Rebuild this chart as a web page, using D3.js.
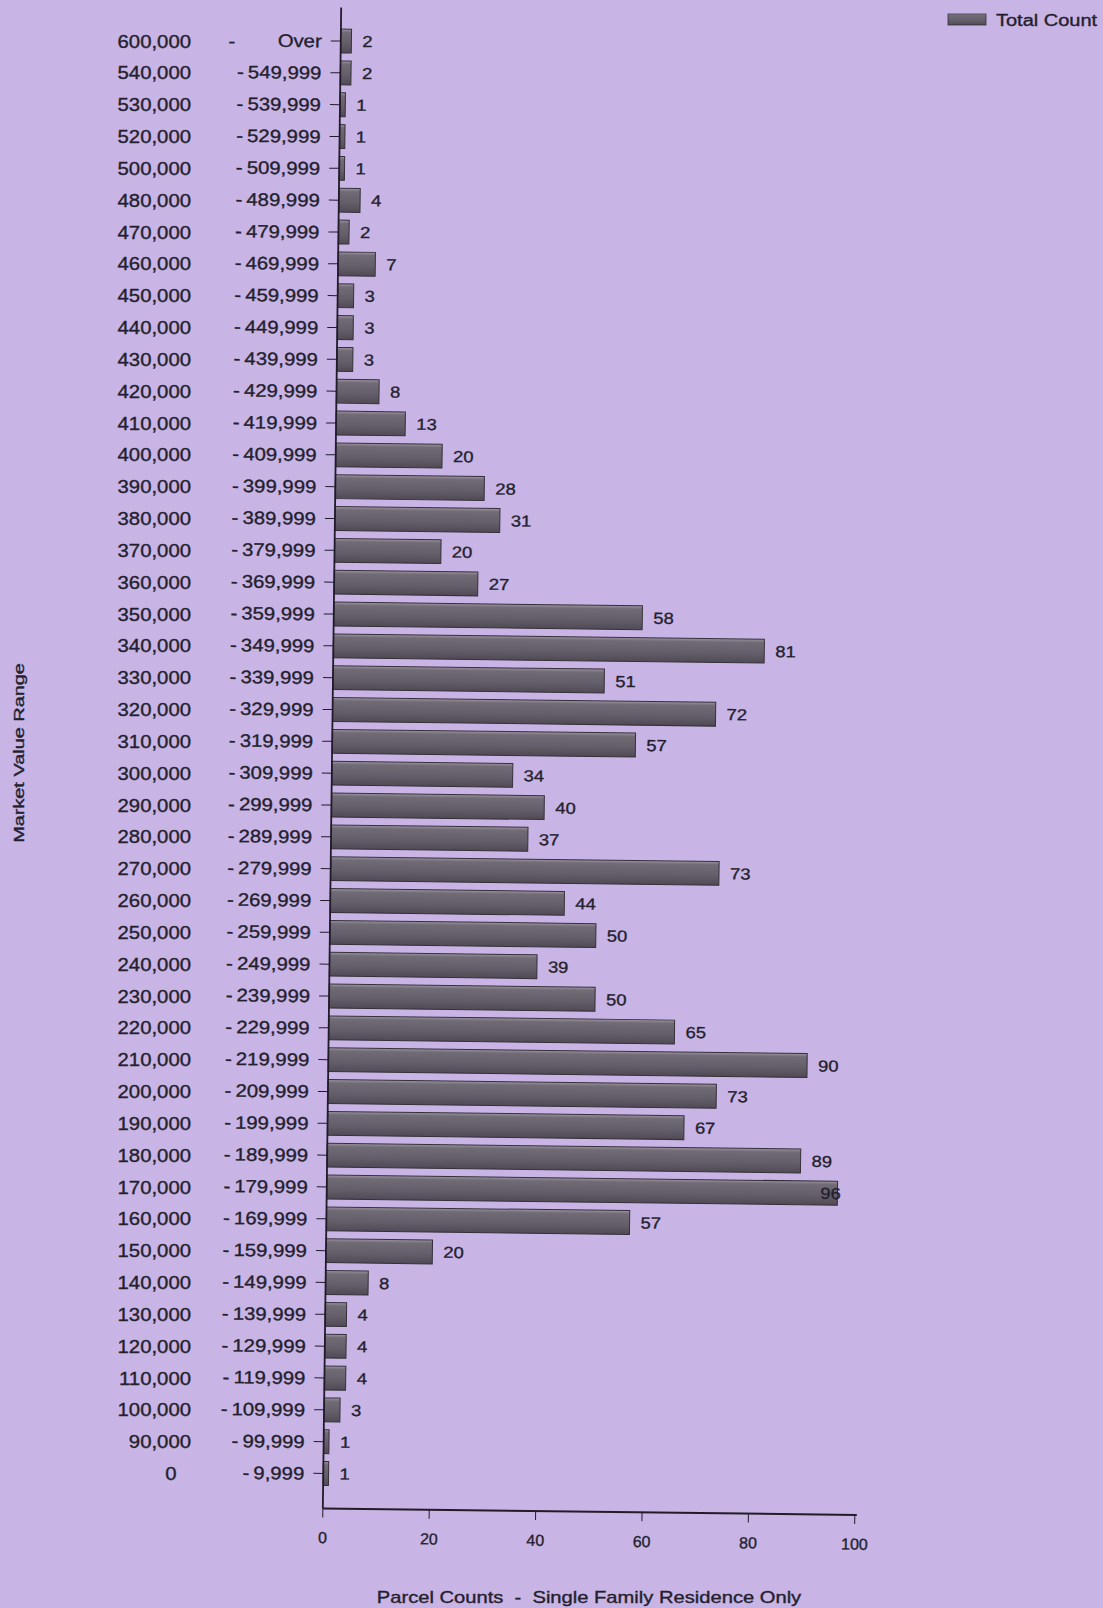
<!DOCTYPE html>
<html>
<head>
<meta charset="utf-8">
<script src="https://cdn.jsdelivr.net/npm/d3@7"></script>
<style>
  html, body { margin: 0; padding: 0; background: #c8b5e5; }
  svg { display: block; }
  text { font-family: "Liberation Sans", Arial, sans-serif; fill: #241f2e; stroke: #241f2e; stroke-width: 0.35px; white-space: pre; }
</style>
</head>
<body>
<svg id="chart" width="1103" height="1608"></svg>
<script>
// Market value bands, lower bound and upper bound, top to bottom
const rangeFrom = ["600,000","540,000","530,000","520,000","500,000","480,000","470,000","460,000",
  "450,000","440,000","430,000","420,000","410,000","400,000","390,000","380,000","370,000",
  "360,000","350,000","340,000","330,000","320,000","310,000","300,000","290,000","280,000",
  "270,000","260,000","250,000","240,000","230,000","220,000","210,000","200,000","190,000",
  "180,000","170,000","160,000","150,000","140,000","130,000","120,000","110,000","100,000",
  "90,000","0"];
const rangeTo = ["Over","549,999","539,999","529,999","509,999","489,999","479,999","469,999",
  "459,999","449,999","439,999","429,999","419,999","409,999","399,999","389,999","379,999",
  "369,999","359,999","349,999","339,999","329,999","319,999","309,999","299,999","289,999",
  "279,999","269,999","259,999","249,999","239,999","229,999","219,999","209,999","199,999",
  "189,999","179,999","169,999","159,999","149,999","139,999","129,999","119,999","109,999",
  "99,999","9,999"];
// Parcel counts per band (single family residences)
const totalCount = [2,2,1,1,1,4,2,7,3,3,3,8,13,20,28,31,20,27,58,81,51,72,57,34,40,37,73,44,
  50,39,50,65,90,73,67,89,96,57,20,8,4,4,4,3,1,1];
const xTicks = [0, 20, 40, 60, 80, 100];
const seriesName = "Total Count";
const xTitle = "Parcel Counts  -  Single Family Residence Only";
const yTitle = "Market Value Range";

const bands = rangeFrom.map((f, i) => ({ id: i, from: f, to: rangeTo[i], value: totalCount[i] }));

const svg = d3.select("#chart");
const ink = "#211c2a";

// horizontally widened text, anchored at (x, y)
function wideText(parent, x, y, str, size, sx, anchor, rot) {
  const g = parent.append("g")
    .attr("transform", `translate(${x},${y})` + (rot ? ` rotate(${rot})` : "") + ` scale(${sx},1)`);
  g.append("text")
    .attr("text-anchor", anchor || "start")
    .attr("dy", "0.36em")
    .style("font-size", size + "px")
    .text(str);
  return g;
}

const defs = svg.append("defs");
const grad = defs.append("linearGradient").attr("id", "barFill")
  .attr("x1", 0).attr("y1", 0).attr("x2", 0).attr("y2", 1);
grad.append("stop").attr("offset", "0%").attr("stop-color", "#9c95a1");
grad.append("stop").attr("offset", "14%").attr("stop-color", "#716b76");
grad.append("stop").attr("offset", "60%").attr("stop-color", "#645e6a");
grad.append("stop").attr("offset", "100%").attr("stop-color", "#504a55");

// scales
const axisX = 332, axisBottom = 1511;
const x = d3.scaleLinear().domain([0, 100]).range([axisX, axisX + 532]);
const y = d3.scaleBand().domain(bands.map(d => d.id))
  .range([27.6, 1492]).paddingInner(0.25).paddingOuter(0.125);

// the plot body sits at a slight tilt
const plot = svg.append("g").attr("transform", "rotate(0.7, 540, 760)");

// bars
plot.append("g").selectAll("rect").data(bands).join("rect")
  .attr("x", x(0))
  .attr("y", d => y(d.id))
  .attr("width", d => x(d.value) - x(0))
  .attr("height", y.bandwidth())
  .attr("fill", "url(#barFill)")
  .attr("stroke", "#35303b")
  .attr("stroke-width", 1);

// value labels
const labelMax = x(92.8);
const vals = plot.append("g");
bands.forEach(d => {
  wideText(vals, Math.min(x(d.value) + 11, labelMax), y(d.id) + y.bandwidth() / 2,
    String(d.value), 16, 1.15, "start");
});

// y axis line and ticks
plot.append("line").attr("x1", axisX).attr("x2", axisX).attr("y1", 10).attr("y2", axisBottom)
  .attr("stroke", ink).attr("stroke-width", 1.8);
plot.append("g").selectAll("line").data(bands).join("line")
  .attr("x1", axisX - 10).attr("x2", axisX)
  .attr("y1", d => y(d.id) + y.bandwidth() / 2)
  .attr("y2", d => y(d.id) + y.bandwidth() / 2)
  .attr("stroke", ink).attr("stroke-width", 1);

// upper bound labels
const upper = plot.append("g");
bands.forEach(d => {
  const str = d.to === "Over" ? d.to : "-\u2009" + d.to;
  wideText(upper, 313, y(d.id) + y.bandwidth() / 2, str, 18, 1.13, "end");
});

// x axis line, ticks, labels
plot.append("line").attr("x1", axisX).attr("x2", x(100) + 2)
  .attr("y1", axisBottom).attr("y2", axisBottom)
  .attr("stroke", ink).attr("stroke-width", 2);
plot.append("g").selectAll("line").data(xTicks).join("line")
  .attr("x1", d => x(d)).attr("x2", d => x(d))
  .attr("y1", axisBottom).attr("y2", axisBottom + 9)
  .attr("stroke", ink).attr("stroke-width", 1);
const xl = plot.append("g");
xTicks.forEach(t => wideText(xl, x(t), 1540, String(t), 16, 1.0, "middle"));

// lower bound labels
const lower = svg.append("g");
bands.forEach(d => {
  const cy = y(d.id) + y.bandwidth() / 2 - 2.5;
  if (d.from === "0") {
    wideText(lower, 171, cy, d.from, 18, 1.13, "middle");
  } else {
    wideText(lower, 191, cy, d.from, 18, 1.13, "end");
  }
  if (d.to === "Over") wideText(lower, 232, cy, "-", 18, 1.13, "middle");
});

// axis titles
wideText(svg, 589, 1597, xTitle, 16, 1.26, "middle");
wideText(svg, 19, 753, yTitle, 14, 1.42, "middle", -90);

// legend
svg.append("rect").attr("x", 948).attr("y", 14).attr("width", 38).attr("height", 11)
  .attr("fill", "url(#barFill)").attr("stroke", "#35303b").attr("stroke-width", 0.8);
wideText(svg, 996, 20, seriesName, 16, 1.25, "start");
</script>
</body>
</html>
